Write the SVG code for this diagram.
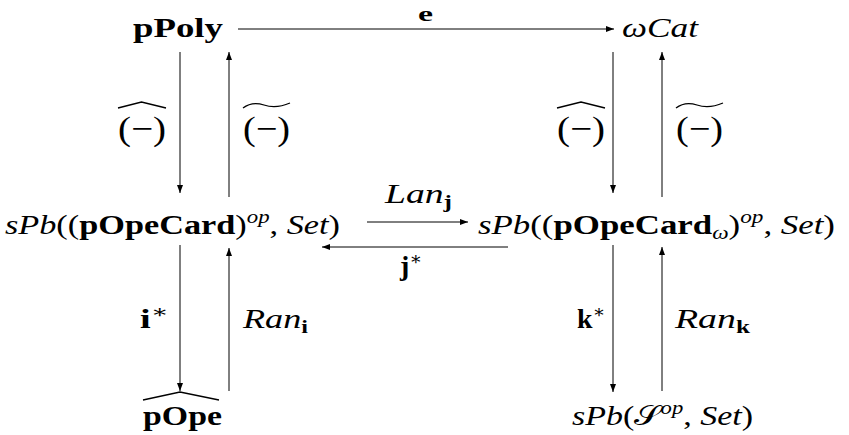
<svg xmlns="http://www.w3.org/2000/svg" width="849" height="435" viewBox="0 0 849 435">
<style>
text{font-family:"Liberation Serif","DejaVu Serif",serif;font-size:27px;fill:#000}
.b{font-weight:bold}
.i{font-style:italic}
.s{font-size:18px}
.big{font-size:34px}
.ln{stroke:#000;stroke-width:1;fill:none}
.acc{stroke:#000;stroke-width:1.3;fill:none}
</style>
<defs>
<marker id="ah" markerUnits="userSpaceOnUse" markerWidth="9" markerHeight="7" refX="8" refY="3" orient="auto">
<path d="M0,0 L8,3 L0,6 z" fill="#000"/>
</marker>
</defs>
<rect width="849" height="435" fill="#fff"/>
<g id="connectors">
<line class="ln" x1="238" y1="29" x2="614" y2="29" marker-end="url(#ah)"/>
<line class="ln" x1="180" y1="52" x2="180" y2="193" marker-end="url(#ah)"/>
<line class="ln" x1="229" y1="197" x2="229" y2="52" marker-end="url(#ah)"/>
<line class="ln" x1="613" y1="52" x2="613" y2="193" marker-end="url(#ah)"/>
<line class="ln" x1="662" y1="197" x2="662" y2="52" marker-end="url(#ah)"/>
<line class="ln" x1="367" y1="222" x2="468" y2="222" marker-end="url(#ah)"/>
<line class="ln" x1="508" y1="247" x2="322" y2="247" marker-end="url(#ah)"/>
<line class="ln" x1="180" y1="245" x2="180" y2="391" marker-end="url(#ah)"/>
<line class="ln" x1="229" y1="391" x2="229" y2="248" marker-end="url(#ah)"/>
<line class="ln" x1="613" y1="245" x2="613" y2="392" marker-end="url(#ah)"/>
<line class="ln" x1="662" y1="391" x2="662" y2="247" marker-end="url(#ah)"/>
<text class="b" x="418" y="21" style="font-size:22px" textLength="15" lengthAdjust="spacingAndGlyphs">e</text>
<g id="lbl-hat-left"><path class="acc" d="M118,108 L141.5,102 L166,108"/><text class="big" x="118" y="140" textLength="48" lengthAdjust="spacingAndGlyphs">(−)</text></g>
<g id="lbl-tilde-left"><path class="acc" d="M243,108 Q252,101 264,105 T290,103"/><text class="big" x="243" y="140" textLength="47" lengthAdjust="spacingAndGlyphs">(−)</text></g>
<g id="lbl-hat-right"><path class="acc" d="M557,108 L581,102 L605,108"/><text class="big" x="557" y="140" textLength="48" lengthAdjust="spacingAndGlyphs">(−)</text></g>
<g id="lbl-tilde-right"><path class="acc" d="M676,108 Q685,101 697,105 T723,103"/><text class="big" x="676" y="140" textLength="47" lengthAdjust="spacingAndGlyphs">(−)</text></g>
<text x="385" y="203" textLength="67" lengthAdjust="spacingAndGlyphs"><tspan class="i">Lan</tspan><tspan class="b s" dy="5">j</tspan></text>
<text x="400" y="275" textLength="22" lengthAdjust="spacingAndGlyphs"><tspan class="b">j</tspan><tspan class="s" dy="-10">∗</tspan></text>
<text x="140" y="328" textLength="28" lengthAdjust="spacingAndGlyphs"><tspan class="b">i</tspan><tspan class="s" dy="-10">∗</tspan></text>
<text x="243" y="328" textLength="65" lengthAdjust="spacingAndGlyphs"><tspan class="i">Ran</tspan><tspan class="b s" dy="5">i</tspan></text>
<text x="577" y="328" textLength="28" lengthAdjust="spacingAndGlyphs"><tspan class="b">k</tspan><tspan class="s" dy="-10">∗</tspan></text>
<text x="675" y="328" textLength="75" lengthAdjust="spacingAndGlyphs"><tspan class="i">Ran</tspan><tspan class="b s" dy="5">k</tspan></text>
</g>
<g id="pPoly"><text class="b" x="133" y="37" textLength="90" lengthAdjust="spacingAndGlyphs">pPoly</text></g>
<g id="omegaCat"><text class="i" x="622" y="37" textLength="76" lengthAdjust="spacingAndGlyphs">ωCat</text></g>
<g id="sPbCard"><text x="5" y="234" textLength="335" lengthAdjust="spacingAndGlyphs"><tspan class="i">sPb</tspan>((<tspan class="b">pOpeCard</tspan>)<tspan class="i s" dy="-11">op</tspan><tspan dy="11">, </tspan><tspan class="i">Set</tspan>)</text></g>
<g id="sPbCardOmega"><text x="478" y="234" textLength="357" lengthAdjust="spacingAndGlyphs"><tspan class="i">sPb</tspan>((<tspan class="b">pOpeCard</tspan><tspan class="i s" dy="5">ω</tspan><tspan dy="-5">)</tspan><tspan class="i s" dy="-11">op</tspan><tspan dy="11">, </tspan><tspan class="i">Set</tspan>)</text></g>
<g id="pOpeHat"><path class="acc" d="M143,400 L180,392 L219,400"/><text class="b" x="143" y="425" textLength="79" lengthAdjust="spacingAndGlyphs">pOpe</text></g>
<g id="sPbS"><text x="572" y="425" textLength="181" lengthAdjust="spacingAndGlyphs"><tspan class="i">sPb</tspan>(<tspan style="font-family:'DejaVu Serif','DejaVu Sans','Liberation Serif',serif">𝒮</tspan><tspan class="i s" dy="-11">op</tspan><tspan dy="11">, </tspan><tspan class="i">Set</tspan>)</text></g>
</svg>
